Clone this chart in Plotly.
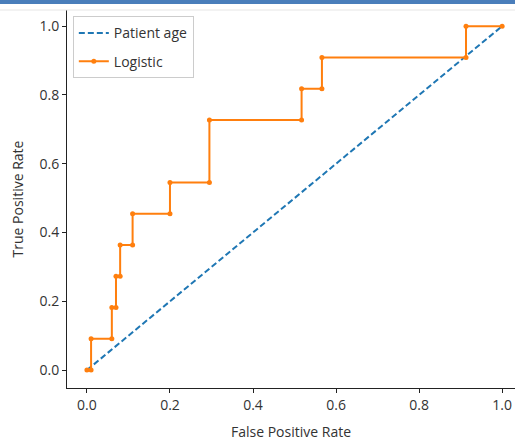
import plotly.graph_objects as go

# Data
diag_x = [0.0, 1.0]
diag_y = [0.0, 1.0]
fpr = [0.0, 0.01, 0.01, 0.06, 0.06, 0.07, 0.07, 0.08, 0.08, 0.11, 0.11, 0.20, 0.20,
       0.295, 0.295, 0.517, 0.517, 0.566, 0.566, 0.913, 0.913, 1.0]
tpr = [0.0, 0.0, 0.0909, 0.0909, 0.1818, 0.1818, 0.2727, 0.2727, 0.3636, 0.3636,
       0.4545, 0.4545, 0.5455, 0.5455, 0.7273, 0.7273, 0.8182, 0.8182, 0.9091, 0.9091,
       1.0, 1.0]
tick_vals = [0.0, 0.2, 0.4, 0.6, 0.8, 1.0]
tick_text = ["0.0", "0.2", "0.4", "0.6", "0.8", "1.0"]

FONT = "Open Sans"
W, H = 515, 443
L, R, T, B = 67, 0, 10, 55

fig = go.Figure()
fig.add_trace(go.Scatter(x=diag_x, y=diag_y, mode="lines", name="Patient age",
                         legendgroup="a",
                         line=dict(color="#1f77b4", width=2, dash="6px,3px")))
fig.add_trace(go.Scatter(x=fpr, y=tpr, mode="lines+markers", name="Logistic",
                         legendgroup="b",
                         line=dict(color="#ff7f0e", width=2),
                         marker=dict(color="#ff7f0e", size=5)))

axis_common = dict(showgrid=False, zeroline=False, showline=True, linecolor="#222",
                   linewidth=1, ticks="outside", ticklen=4, tickcolor="#222",
                   tickvals=tick_vals, ticktext=tick_text, automargin=False,
                   tickfont=dict(family=FONT, size=14, color="#333"))

fig.update_layout(
    width=W, height=H,
    margin=dict(l=L, r=R, t=T, b=B),
    paper_bgcolor="white", plot_bgcolor="white",
    xaxis=dict(range=[-0.048, 1.031], title=dict(text="False Positive Rate",
               font=dict(family=FONT, size=14, color="#333"), standoff=14), **axis_common),
    yaxis=dict(range=[-0.052, 1.047], title=dict(text="True Positive Rate",
               font=dict(family=FONT, size=14, color="#333"), standoff=12), **axis_common),
    legend=dict(x=0.013, y=0.983, xanchor="left", yanchor="top",
                bgcolor="rgba(255,255,255,0.9)", bordercolor="#ccc", borderwidth=1,
                font=dict(family=FONT, size=14, color="#333"), tracegroupgap=7),
    showlegend=True,
)

pw = W - L - R
ph = H - T - B
def px_x(p):
    return (p - L) / pw
def px_y(p):
    return (H - B - p) / ph

shapes = [
    dict(type="rect", xref="paper", yref="paper", x0=px_x(0), x1=px_x(W),
         y0=px_y(4), y1=px_y(0), fillcolor="#4a7ebb", line=dict(width=0), layer="above"),
    dict(type="line", xref="paper", yref="paper", x0=px_x(0), x1=px_x(W),
         y0=px_y(10), y1=px_y(10), line=dict(color="#e6e6e6", width=1)),
]
fig.update_layout(shapes=shapes)

fig.write_html("out.html", config={"displayModeBar": False},
               post_script="document.body.style.margin='0px';document.body.style.overflow='hidden';")
